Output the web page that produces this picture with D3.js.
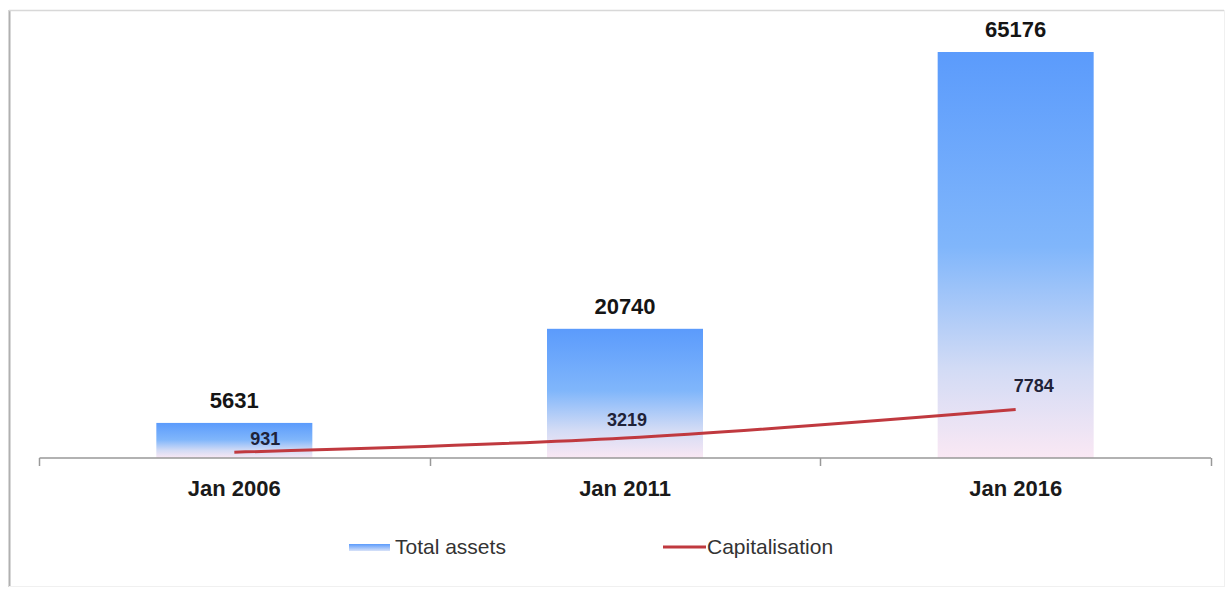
<!DOCTYPE html>
<html>
<head>
<meta charset="utf-8">
<script src="https://cdn.jsdelivr.net/npm/d3@7"></script>
<style>
  body { margin: 0; background: #fff; }
  svg { display: block; font-family: Arial, "Liberation Sans", sans-serif; }
</style>
</head>
<body>
<div id="chart"></div>
<script>
// chart data
var categories = ["Jan 2006", "Jan 2011", "Jan 2016"];
var totalAssets = [5631, 20740, 65176];
var capitalisation = [931, 3219, 7784];
var seriesNames = ["Total assets", "Capitalisation"];

// hand placed label nudges for the capitalisation labels (as in the original)
var capLabelDx = [31, 2, 18];
var capLabelDy = [-7, -12, -18];

var svgWidth = 1230;
var svgHeight = 590;

var margin = { top: 52, right: 19, bottom: 132, left: 39 };
var width = svgWidth - margin.left - margin.right;
var height = svgHeight - margin.top - margin.bottom;

var svg = d3.select("#chart")
  .append("svg")
  .attr("width", svgWidth)
  .attr("height", svgHeight);

// frame
svg.append("line").attr("x1", 9.5).attr("x2", 9.5).attr("y1", 10).attr("y2", 587)
  .attr("stroke", "#b0b0b0").attr("stroke-width", 2);
svg.append("line").attr("x1", 9).attr("x2", 1224).attr("y1", 10.5).attr("y2", 10.5)
  .attr("stroke", "#d8d8d8").attr("stroke-width", 1.5);
svg.append("line").attr("x1", 1224.5).attr("x2", 1224.5).attr("y1", 10).attr("y2", 587)
  .attr("stroke", "#f0f0f0");
svg.append("line").attr("x1", 9).attr("x2", 1224).attr("y1", 586.5).attr("y2", 586.5)
  .attr("stroke", "#f0f0f0");

// each bar fades from blue at its top to pink at its base
var defs = svg.append("defs");
var grad = defs.append("linearGradient")
  .attr("id", "barGrad")
  .attr("x1", 0).attr("x2", 0)
  .attr("y1", 0).attr("y2", 1);
grad.append("stop").attr("offset", "0%").attr("stop-color", "#5b9bfc");
grad.append("stop").attr("offset", "48%").attr("stop-color", "#80b6fb");
grad.append("stop").attr("offset", "78%").attr("stop-color", "#d2dbf5");
grad.append("stop").attr("offset", "100%").attr("stop-color", "#fae8f4");

var legendGrad = defs.append("linearGradient")
  .attr("id", "legendGrad")
  .attr("x1", 0).attr("x2", 0).attr("y1", 0).attr("y2", 1);
legendGrad.append("stop").attr("offset", "0%").attr("stop-color", "#5b9bfc");
legendGrad.append("stop").attr("offset", "100%").attr("stop-color", "#d8e2f8");

var chartGroup = svg.append("g")
  .attr("transform", `translate(${margin.left}, ${margin.top})`);

var xBands = d3.scaleBand()
  .domain(categories)
  .range([0, width]);

var yScale = d3.scaleLinear()
  .domain([0, 65176])
  .range([height, 0]);

var data = categories.map(function (c, i) {
  return { cat: c, assets: totalAssets[i], cap: capitalisation[i], i: i };
});

var cx = d => xBands(d.cat) + xBands.bandwidth() / 2;

// bars
chartGroup.selectAll("rect.bar")
  .data(data)
  .enter()
  .append("rect")
  .attr("class", "bar")
  .attr("x", d => cx(d) - 78)
  .attr("width", 156)
  .attr("y", d => yScale(d.assets))
  .attr("height", d => height - yScale(d.assets))
  .attr("fill", "url(#barGrad)");

// axis
var bottomAxis = d3.axisBottom(xBands).tickSize(0).tickPadding(22);
var axisG = chartGroup.append("g")
  .attr("transform", `translate(0, ${height})`)
  .call(bottomAxis);
axisG.select(".domain").attr("stroke", "#999").attr("stroke-width", 1.5).attr("d", `M0.5,0H${width}`);
axisG.selectAll("text")
  .style("font-size", "22px")
  .style("font-weight", "bold")
  .attr("fill", "#1a1a1a");

// tick marks between categories
var tickPos = [0].concat(categories.map(c => xBands(c) + xBands.bandwidth()));
chartGroup.selectAll("line.tick")
  .data(tickPos)
  .enter()
  .append("line")
  .attr("x1", d => Math.round(d) + 0.5)
  .attr("x2", d => Math.round(d) + 0.5)
  .attr("y1", height)
  .attr("y2", height + 8)
  .attr("stroke", "#999")
  .attr("stroke-width", 1.5);

// bar labels
chartGroup.selectAll("text.barLabel")
  .data(data)
  .enter()
  .append("text")
  .attr("class", "barLabel")
  .attr("x", cx)
  .attr("y", d => yScale(d.assets) - 15)
  .attr("text-anchor", "middle")
  .style("font-size", "22px")
  .style("font-weight", "bold")
  .attr("fill", "#151515")
  .text(d => d.assets);

// capitalisation line
var line = d3.line()
  .x(cx)
  .y(d => yScale(d.cap))
  .curve(d3.curveMonotoneX);

chartGroup.append("path")
  .datum(data)
  .attr("d", line)
  .attr("fill", "none")
  .attr("stroke", "#c0393f")
  .attr("stroke-width", 3);

// line labels
chartGroup.selectAll("text.capLabel")
  .data(data)
  .enter()
  .append("text")
  .attr("class", "capLabel")
  .attr("x", d => cx(d) + capLabelDx[d.i])
  .attr("y", d => yScale(d.cap) + capLabelDy[d.i])
  .attr("text-anchor", "middle")
  .style("font-size", "18px")
  .style("font-weight", "bold")
  .attr("fill", "#1f2238")
  .text(d => d.cap);

// legend
var legend = svg.append("g").attr("transform", "translate(0, 547)");
legend.append("rect")
  .attr("x", 349).attr("y", -3).attr("width", 41).attr("height", 7)
  .attr("fill", "url(#legendGrad)");
legend.append("text")
  .attr("x", 395).attr("y", 7)
  .style("font-size", "21px")
  .attr("fill", "#333")
  .text(seriesNames[0]);
legend.append("line")
  .attr("x1", 663).attr("x2", 706).attr("y1", 0).attr("y2", 0)
  .attr("stroke", "#c0393f").attr("stroke-width", 3);
legend.append("text")
  .attr("x", 707).attr("y", 7)
  .style("font-size", "21px")
  .attr("fill", "#333")
  .text(seriesNames[1]);
</script>
</body>
</html>
